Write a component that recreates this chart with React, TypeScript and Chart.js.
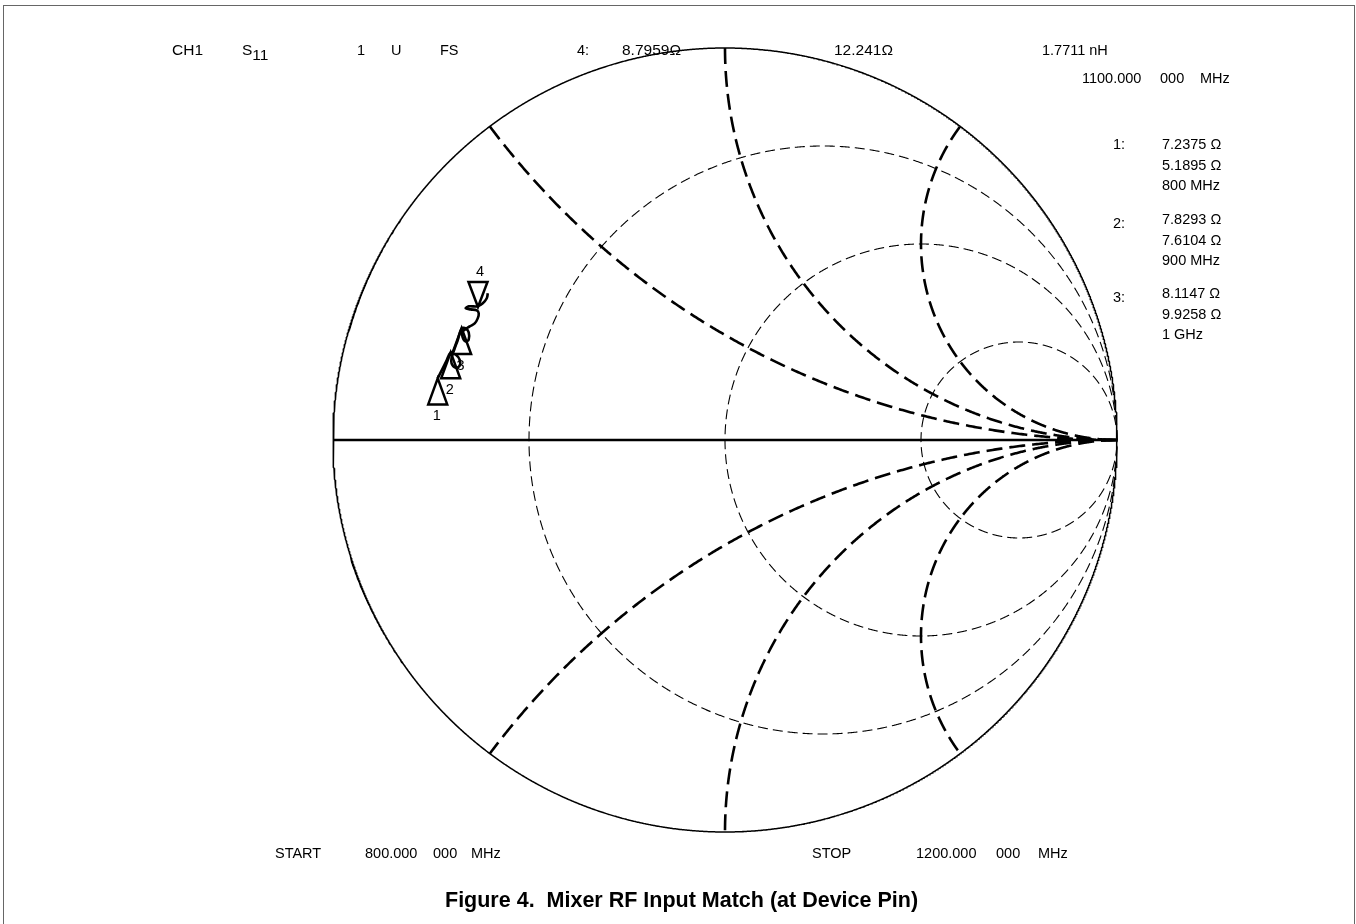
import React, { useRef, useEffect } from 'react';
import { Chart, registerables } from 'chart.js';

Chart.register(...registerables);

// reference impedance of the analyser
const Z0 = 50;

// Smith chart grid: normalised resistance circles and reactance arcs
const resistanceCircles = [1 / 3, 1, 3];
const reactanceArcs = [0.5, 1, 2, -0.5, -1, -2];

// markers (R, X in ohms) from the readout
const markerLabels = ['1', '2', '3', '4'];
const markerR = [7.2375, 7.8293, 8.1147, 8.7959];
const markerX = [5.1895, 7.6104, 9.9258, 12.241];
const markerFreq = ['800 MHz', '900 MHz', '1 GHz', '1100 MHz'];

// S11 trace 800 -> 1200 MHz (reflection coefficient)
const traceRe = [
  -0.7333, -0.7256, -0.7179, -0.7103, -0.7, -0.6872, -0.6769, -0.6769, -0.6872, -0.6974, -0.6974,
  -0.6897, -0.6821, -0.6718, -0.6615, -0.6538, -0.6538, -0.6615, -0.6692, -0.6692, -0.6513, -0.6385,
  -0.6308, -0.6282, -0.6333, -0.6487, -0.6615, -0.6538, -0.6308, -0.6179, -0.6077, -0.6051,
];
const traceIm = [
  0.1564, 0.1718, 0.1872, 0.2026, 0.2231, 0.2179, 0.2051, 0.1897, 0.1846, 0.1949, 0.2103,
  0.2333, 0.2538, 0.2846, 0.2846, 0.2744, 0.2564, 0.2513, 0.2615, 0.2769, 0.2897, 0.2974,
  0.3103, 0.3231, 0.3308, 0.3333, 0.3359, 0.341, 0.341, 0.3487, 0.3615, 0.3744,
];

const W = 1356;
const H = 924;
const CX = 725;
const CY = 440;
const RAD = 392;

const FONT = '"Liberation Sans", Arial, Helvetica, sans-serif';

// points of a circle, clipped to the unit circle
const circlePoints = (cx: number, cy: number, r: number, steps = 2880) => {
  const pts: { x: number; y: number }[] = [];
  for (let k = 0; k <= steps; k++) {
    const t = (2 * Math.PI * k) / steps;
    const px = cx + r * Math.cos(t);
    const py = cy + r * Math.sin(t);
    if (px * px + py * py <= 1 + 1e-6) pts.push({ x: px, y: py });
  }
  return pts;
};

const toGamma = (r: number, x: number) => {
  const zr = r / Z0;
  const zx = x / Z0;
  const d = (zr + 1) * (zr + 1) + zx * zx;
  return {
    x: ((zr - 1) * (zr + 1) + zx * zx) / d,
    y: (zx * (zr + 1) - (zr - 1) * zx) / d,
  };
};

const markerPlugin = {
  id: 'smithMarkers',
  afterDatasetsDraw(chart: any) {
    const idx = chart.data.datasets.findIndex((d: any) => d.label === 'markers');
    if (idx < 0) return;
    const meta = chart.getDatasetMeta(idx);
    const ctx = chart.ctx;
    ctx.save();
    ctx.strokeStyle = '#000';
    ctx.fillStyle = '#000';
    ctx.lineWidth = 2.5;
    ctx.font = `14.5px ${FONT}`;
    ctx.textAlign = 'center';
    ctx.textBaseline = 'middle';
    meta.data.forEach((pt: any, i: number) => {
      const { x, y } = pt.getProps(['x', 'y']);
      const down = i === markerLabels.length - 1;
      const h = down ? -25 : 26;
      const w = 9.5;
      ctx.beginPath();
      ctx.moveTo(x, y);
      ctx.lineTo(x - w, y + h);
      ctx.lineTo(x + w, y + h);
      ctx.closePath();
      ctx.stroke();
      ctx.fillText(markerLabels[i], x + (down ? 2 : -1), y + (down ? -35 : 38));
    });
    ctx.restore();
  },
};

const SmithChart: React.FC = () => {
  const chartRef = useRef<HTMLCanvasElement>(null);
  const chartInstance = useRef<Chart | null>(null);

  useEffect(() => {
    if (!chartRef.current) return;
    if (chartInstance.current) chartInstance.current.destroy();

    const ctx = chartRef.current.getContext('2d');
    if (!ctx) return;

    const line = (data: any[], width: number, dash: number[] = []) => ({
      data,
      showLine: true,
      borderColor: '#000',
      borderWidth: width,
      borderDash: dash,
      pointRadius: 0,
      fill: false,
      tension: 0,
    });

    const datasets: any[] = [];
    // outer boundary (r = 0) and real axis (x = 0)
    datasets.push(line(circlePoints(0, 0, 1), 1.5));
    datasets.push(line([{ x: -1, y: 0 }, { x: 1, y: 0 }], 2.6));
    resistanceCircles.forEach(r => {
      datasets.push(line(circlePoints(r / (1 + r), 0, 1 / (1 + r)), 1.1, [10, 5]));
    });
    reactanceArcs.forEach(x => {
      datasets.push(line(circlePoints(1, 1 / x, 1 / Math.abs(x)), 2.6, [16, 7]));
    });
    datasets.push({
      ...line(traceRe.map((v, i) => ({ x: v, y: traceIm[i] })), 2.6),
      tension: 0.35,
    });
    datasets.push({
      label: 'markers',
      data: markerR.map((r, i) => toGamma(r, markerX[i])),
      showLine: false,
      pointRadius: 0,
    });

    chartInstance.current = new Chart(ctx, {
      type: 'scatter',
      data: { datasets },
      options: {
        responsive: true,
        maintainAspectRatio: false,
        animation: false,
        events: [],
        layout: { padding: 0, autoPadding: false },
        plugins: {
          legend: { display: false },
          tooltip: { enabled: false },
        },
        scales: {
          x: { type: 'linear', display: false, min: -CX / RAD, max: (W - CX) / RAD },
          y: { type: 'linear', display: false, min: -(H - CY) / RAD, max: CY / RAD },
        },
      },
      plugins: [markerPlugin],
    });

    return () => {
      if (chartInstance.current) {
        chartInstance.current.destroy();
        chartInstance.current = null;
      }
    };
  }, []);

  return (
    <div style={{ position: 'absolute', left: 0, top: 0, width: W, height: H }}>
      <canvas ref={chartRef} />
    </div>
  );
};

const T: React.FC<{ x: number; y: number; size?: number; children: React.ReactNode }> = ({
  x, y, size = 14.5, children,
}) => (
  <div
    style={{
      position: 'absolute',
      left: x,
      top: y - 9,
      lineHeight: '18px',
      fontSize: size,
      whiteSpace: 'pre',
    }}
  >
    {children}
  </div>
);

const App: React.FC = () => {
  const topY = 50;
  const readout = [0, 1, 2];
  const blockY = [144, 219, 293];
  return (
    <div
      style={{
        position: 'fixed',
        left: 0,
        top: 0,
        width: W,
        height: H,
        overflow: 'hidden',
        background: '#fff',
        color: '#000',
        fontFamily: FONT,
      }}
    >
      <div
        style={{
          position: 'absolute',
          left: 3,
          top: 5,
          width: 1352,
          height: H - 5,
          boxSizing: 'border-box',
          borderTop: '1px solid #666',
          borderLeft: '1px solid #666',
          borderRight: '1px solid #666',
        }}
      />
      <SmithChart />

      <T x={172} y={topY} size={15.5}>CH1</T>
      <T x={242} y={topY} size={15.5}>
        S<span style={{ position: 'relative', top: 5 }}>11</span>
      </T>
      <T x={357} y={topY}>1</T>
      <T x={391} y={topY}>U</T>
      <T x={440} y={topY}>FS</T>
      <T x={577} y={topY}>4:</T>
      <T x={622} y={topY} size={15.5}>8.7959Ω</T>
      <T x={834} y={topY} size={15.5}>12.241Ω</T>
      <T x={1042} y={topY}>1.7711 nH</T>

      <T x={1082} y={78}>1100.000</T>
      <T x={1160} y={78}>000</T>
      <T x={1200} y={78}>MHz</T>

      {readout.map(i => (
        <React.Fragment key={i}>
          <T x={1113} y={blockY[i] + (i === 0 ? 0 : 4)}>{markerLabels[i] + ':'}</T>
          <T x={1162} y={blockY[i]}>{markerR[i] + ' Ω'}</T>
          <T x={1162} y={blockY[i] + 20.5}>{markerX[i] + ' Ω'}</T>
          <T x={1162} y={blockY[i] + 41}>{markerFreq[i]}</T>
        </React.Fragment>
      ))}

      <T x={275} y={853}>START</T>
      <T x={365} y={853}>800.000</T>
      <T x={433} y={853}>000</T>
      <T x={471} y={853}>MHz</T>
      <T x={812} y={853}>STOP</T>
      <T x={916} y={853}>1200.000</T>
      <T x={996} y={853}>000</T>
      <T x={1038} y={853}>MHz</T>

      <div
        style={{
          position: 'absolute',
          left: 445,
          top: 889,
          lineHeight: '22px',
          fontSize: 21.5,
          fontWeight: 'bold',
          whiteSpace: 'pre',
        }}
      >
        Figure 4.  Mixer RF Input Match (at Device Pin)
      </div>
    </div>
  );
};

export default App;
